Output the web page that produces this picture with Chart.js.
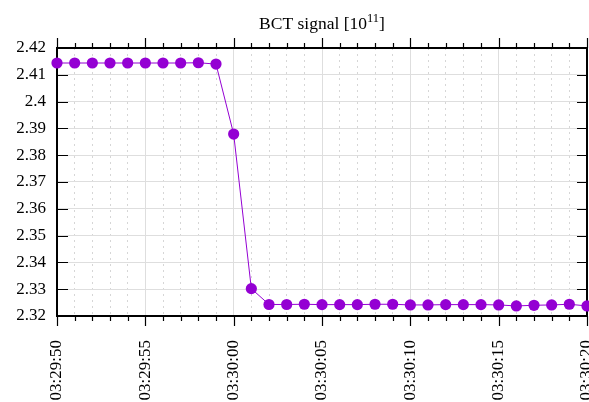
<!DOCTYPE html>
<html>
<head>
<meta charset="utf-8">
<script src="https://cdn.jsdelivr.net/npm/chart.js@4/dist/chart.umd.min.js"></script>
<style>
  html, body { margin: 0; padding: 0; background: #fff; }
  #wrap { width: 589px; height: 402px; }
</style>
</head>
<body>
<div id="wrap"><canvas id="bct" width="589" height="402"></canvas></div>
<script>
// Sample timestamps (one per second)
const times = [
  "03:29:50", "03:29:51", "03:29:52", "03:29:53", "03:29:54", "03:29:55",
  "03:29:56", "03:29:57", "03:29:58", "03:29:59", "03:30:00", "03:30:01",
  "03:30:02", "03:30:03", "03:30:04", "03:30:05", "03:30:06", "03:30:07",
  "03:30:08", "03:30:09", "03:30:10", "03:30:11", "03:30:12", "03:30:13",
  "03:30:14", "03:30:15", "03:30:16", "03:30:17", "03:30:18", "03:30:19",
  "03:30:20"
];

// Beam current transformer reading, units of 1e11 charges
const bct = [
  2.4144, 2.4144, 2.4144, 2.4144, 2.4144, 2.4144,
  2.4144, 2.4144, 2.4145, 2.4140, 2.3879, 2.3302,
  2.3243, 2.3243, 2.32438, 2.32425, 2.32425, 2.32425,
  2.32438, 2.32438, 2.32413, 2.32413, 2.32425, 2.32425,
  2.32425, 2.32413, 2.32375, 2.3240, 2.32413, 2.32438,
  2.32375
];

// Axis ranges and tick values
const xStart = "03:29:50";
const xEnd = "03:30:20";
const xMajorStep = 5;
const yTicks = [2.32, 2.33, 2.34, 2.35, 2.36, 2.37, 2.38, 2.39, 2.40, 2.41, 2.42];

const toSec = s => { const [h, m, c] = s.split(":").map(Number); return h * 3600 + m * 60 + c; };
const pad2 = n => String(n).padStart(2, "0");
const fmtTime = v => {
  const t = Math.round(v);
  return pad2(Math.floor(t / 3600)) + ":" + pad2(Math.floor((t % 3600) / 60)) + ":" + pad2(t % 60);
};

const xMin = toSec(xStart), xMax = toSec(xEnd);
const points = times.map((t, i) => ({ x: toSec(t), y: bct[i] }));

const FONT = "'Liberation Serif', 'DejaVu Serif', serif";
const LINE_COLOR = "#9400D3";

// Frame, tick marks and title with superscript
const decorations = {
  id: "decorations",
  beforeDatasetsDraw(chart) {
    const { ctx, chartArea: ca, scales } = chart;
    const xs = scales.x, ys = scales.y;
    ctx.save();
    ctx.strokeStyle = "#000";
    ctx.lineWidth = 1.2;
    ctx.beginPath();
    for (let s = xMin; s <= xMax; s++) {
      const px = Math.round(xs.getPixelForValue(s)) + 0.5;
      const len = (s - xMin) % xMajorStep === 0 ? 10 : 5;
      ctx.moveTo(px, ca.bottom); ctx.lineTo(px, ca.bottom + len);
      ctx.moveTo(px, ca.top); ctx.lineTo(px, ca.top - len);
    }
    yTicks.forEach(v => {
      const py = Math.round(ys.getPixelForValue(v)) + 0.5;
      ctx.moveTo(ca.left, py); ctx.lineTo(ca.left + 11, py);
      ctx.moveTo(ca.right, py); ctx.lineTo(ca.right - 10, py);
    });
    ctx.stroke();
    ctx.lineWidth = 2;
    ctx.strokeRect(ca.left, ca.top, ca.right - ca.left, ca.bottom - ca.top);
    ctx.restore();
  },
  afterDraw(chart) {
    const { ctx, chartArea: ca } = chart;
    const main = "BCT signal [10", sup = "11", close = "]";
    const mainFont = "17.5px " + FONT, supFont = "12.5px " + FONT;
    ctx.save();
    ctx.fillStyle = "#000";
    ctx.textBaseline = "alphabetic";
    ctx.font = mainFont;
    const w1 = ctx.measureText(main).width, w3 = ctx.measureText(close).width;
    ctx.font = supFont;
    const w2 = ctx.measureText(sup).width;
    let x = (ca.left + ca.right) / 2 - (w1 + w2 + w3) / 2;
    const base = 29;
    ctx.font = mainFont;
    ctx.fillText(main, x, base);
    x += w1;
    ctx.font = supFont;
    ctx.fillText(sup, x, base - 7);
    x += w2;
    ctx.font = mainFont;
    ctx.fillText(close, x, base);
    ctx.restore();
  }
};

new Chart(document.getElementById("bct"), {
  type: "line",
  data: {
    datasets: [{
      data: points,
      xAxisID: "x",
      yAxisID: "y",
      borderColor: LINE_COLOR,
      backgroundColor: LINE_COLOR,
      borderWidth: 1,
      pointRadius: 5.6,
      pointBorderWidth: 0,
      pointBackgroundColor: LINE_COLOR,
      tension: 0,
      clip: false
    }]
  },
  options: {
    responsive: false,
    animation: false,
    devicePixelRatio: 1,
    layout: { autoPadding: false, padding: { top: 48, right: 2, left: 0, bottom: 0 } },
    plugins: { legend: { display: false }, tooltip: { enabled: false }, title: { display: false } },
    scales: {
      x: {
        type: "linear",
        position: "bottom",
        min: xMin,
        max: xMax,
        ticks: {
          stepSize: xMajorStep,
          autoSkip: false,
          minRotation: 90,
          maxRotation: 90,
          padding: 24,
          color: "#000",
          font: { family: FONT, size: 17 },
          callback: v => fmtTime(v)
        },
        grid: { color: "#dedede", lineWidth: 1, drawTicks: false },
        border: { display: false },
        afterFit(scale) { scale.height = 86; scale.paddingLeft = 0; scale.paddingRight = 0; }
      },
      xMinor: {
        type: "linear",
        position: "bottom",
        min: xMin,
        max: xMax,
        ticks: { display: false, stepSize: 1, autoSkip: false },
        grid: {
          drawTicks: false,
          lineWidth: 1,
          color: ctx => ((Math.round(ctx.tick.value) - xMin) % xMajorStep === 0 ? "rgba(0,0,0,0)" : "#d6d6d6")
        },
        border: { display: false, dash: [2, 4] },
        afterFit(scale) { scale.height = 0; scale.paddingLeft = 0; scale.paddingRight = 0; }
      },
      y: {
        type: "linear",
        position: "left",
        min: yTicks[0],
        max: yTicks[yTicks.length - 1],
        afterBuildTicks(scale) { scale.ticks = yTicks.map(v => ({ value: v })); },
        ticks: {
          padding: 11,
          color: "#000",
          font: { family: FONT, size: 17 },
          callback: v => String(Number(v.toFixed(2)))
        },
        grid: { color: "#dedede", lineWidth: 1, drawTicks: false },
        border: { display: false },
        afterFit(scale) { scale.width = 57; scale.paddingTop = 0; scale.paddingBottom = 0; }
      }
    }
  },
  plugins: [decorations]
});
</script>
</body>
</html>
